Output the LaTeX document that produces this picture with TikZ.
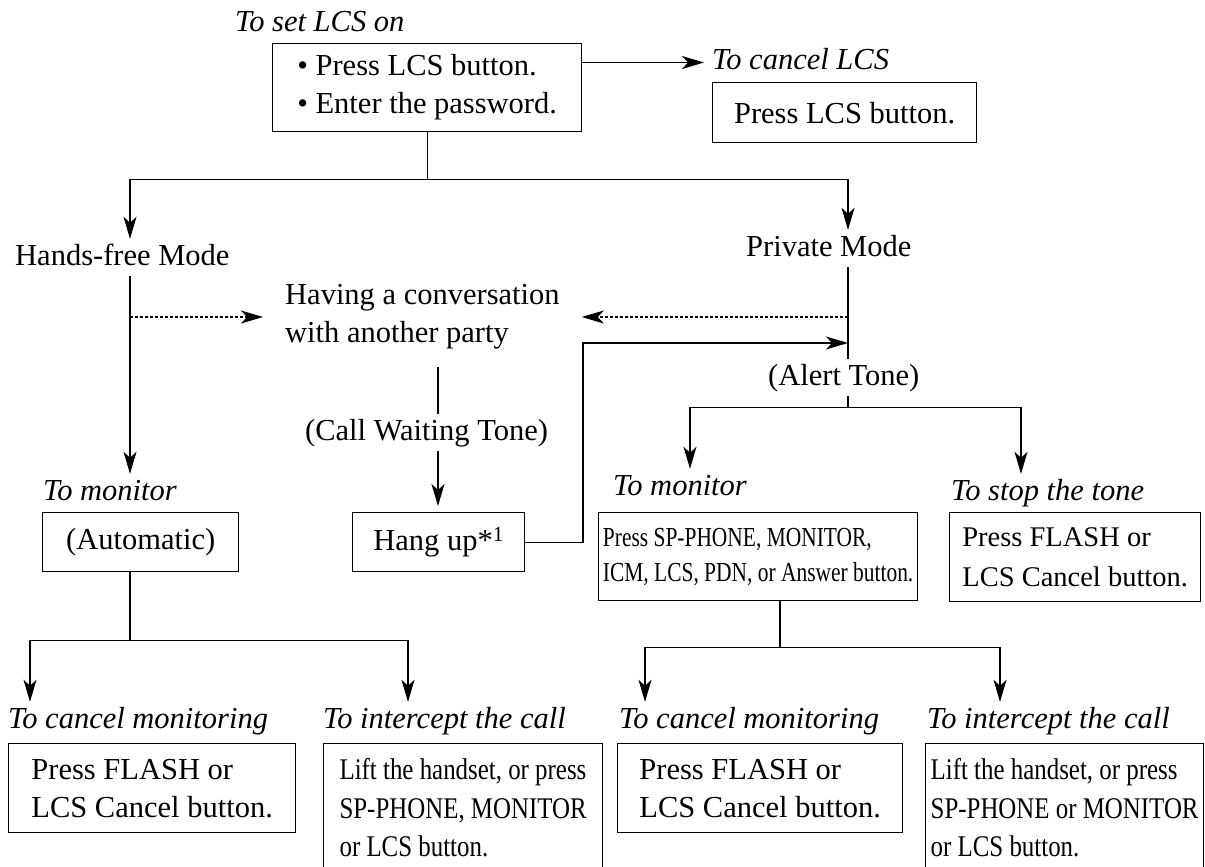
\documentclass[tikz,border=0pt]{standalone}
\usepackage{fontspec}
\setmainfont{Liberation Serif}
\newfontfamily\narrowfont{Liberation Serif}[FakeStretch=0.78]
\newfontfamily\slimfont{Liberation Serif}[FakeStretch=0.83]
\usepackage{tikz}
\usetikzlibrary{arrows.meta}
\newcommand{\bigtext}{\fontsize{30.5pt}{38pt}\selectfont}

\begin{document}
\begin{tikzpicture}[x=1pt, y=-1pt,
    txt/.style={anchor=base west, inner xsep=0pt, inner ysep=5pt, text height=21pt, text depth=6pt, font=\bigtext},
    lbl/.style={txt, font=\bigtext\itshape},
    box/.style={draw, line width=1.3pt, anchor=north west, inner sep=0pt, align=left, font=\bigtext},
    line/.style={line width=1.3pt},
    arr/.style={line, -{Stealth[length=22pt, width=13pt, inset=6pt]}},
    darr/.style={arr, line width=1.1pt, dash pattern=on 3pt off 2pt}
]
    \useasboundingbox (0,0) rectangle (1205,867);

    \coordinate (colL) at (130,0);
    \coordinate (colC) at (438,0);
    \coordinate (colR) at (848,0);
    \coordinate (colM) at (690,0);
    \coordinate (colS) at (1021,0);
    \coordinate (colLa) at (30,0);
    \coordinate (colLb) at (408,0);
    \coordinate (colMb) at (780,0);
    \coordinate (colRa) at (645,0);
    \coordinate (colRb) at (1000,0);
    \coordinate (retcol) at (583,343);
    \coordinate (ret) at (848,343);

    \node[lbl] (setlbl) at (235,32) {To set LCS on};
    \node[box, minimum width=309pt, minimum height=88pt] (setbox) at (272,43)
        {\textbullet\ Press LCS button.\\\textbullet\ Enter the password.};
    \node[lbl] (cancellbl) at (712,70) {To cancel LCS};
    \node[box, minimum width=264pt, minimum height=60pt, align=center] (cancelbox) at (712,82) {Press LCS button.};

    \node[txt] (hands) at (15,265) {Hands-free Mode};
    \node[txt] (private) at (746,256) {Private Mode};
    \node[anchor=west, inner xsep=22pt, inner ysep=5pt, align=left, font=\bigtext] (conv) at (263,317)
        {Having a conversation\\with another party};
    \node[txt] (cwt) at (305,440) {(Call Waiting Tone)};
    \node[txt] (alert) at (768,385) {(Alert Tone)};

    \node[lbl] (monlblL) at (43,500) {To monitor};
    \node[box, minimum width=196pt, minimum height=59pt, align=center] (autobox) at (42,512) {(Automatic)};
    \node[box, minimum width=172pt, minimum height=59pt, align=center] (hangbox) at (352,512) {Hang up*\textsuperscript{1}};
    \node[lbl] (monlblR) at (613,495) {To monitor};
    \node[box, minimum width=319pt, minimum height=88pt, font=\narrowfont\fontsize{27.5pt}{35pt}\selectfont] (monbox) at (598,512)
        {Press SP-PHONE, MONITOR,\\ICM, LCS, PDN, or Answer button.};
    \node[lbl] (stoplbl) at (951,500) {To stop the tone};
    \node[box, minimum width=251pt, minimum height=89pt, font=\fontsize{28.5pt}{40pt}\selectfont] (stopbox) at (949,512)
        {Press FLASH or\\LCS Cancel button.};

    \node[lbl] (cmlblL) at (8,728) {To cancel monitoring};
    \node[box, minimum width=287pt, minimum height=89pt] (cmboxL) at (8,743) {Press FLASH or\\LCS Cancel button.};
    \node[lbl] (iclblL) at (323,728) {To intercept the call};
    \node[box, minimum width=279pt, minimum height=128pt, font=\slimfont\fontsize{30pt}{38.5pt}\selectfont] (icboxL) at (323,743)
        {Lift the handset, or press\\SP-PHONE, MONITOR\\or LCS button.};
    \node[lbl] (cmlblR) at (619,728) {To cancel monitoring};
    \node[box, minimum width=285pt, minimum height=89pt] (cmboxR) at (617,743) {Press FLASH or\\LCS Cancel button.};
    \node[lbl] (iclblR) at (927,728) {To intercept the call};
    \node[box, minimum width=278pt, minimum height=128pt, font=\slimfont\fontsize{30pt}{38.5pt}\selectfont] (icboxR) at (925,743)
        {Lift the handset, or press\\SP-PHONE or MONITOR\\or LCS button.};

    \draw[arr, shorten >=8pt] (setbox.east |- cancellbl.west) -- (cancellbl.west);
    \draw[line] (setbox.south) -- ++(0,47) coordinate (jtop);
    \draw[arr] (jtop) -| (hands.north -| colL);
    \draw[arr] (jtop) -| (private.north -| colR);

    \draw[arr] (hands.south -| colL) -- (monlblL.north -| colL);
    \draw[darr] (conv.west -| colL) -- (conv.west);
    \draw[line] (private.south -| colR) -- (alert.north -| colR);
    \draw[darr] (conv.east -| colR) -- (conv.east);

    \draw[line, shorten <=12pt] (conv.south -| colC) -- (cwt.north -| colC);
    \draw[arr, shorten >=6pt] (cwt.south -| colC) -- (hangbox.north -| colC);
    \draw[arr] (hangbox.east) -| (retcol) -- (ret);

    \draw[line] (alert.south -| colR) -- ++(0,11) coordinate (jalert);
    \draw[arr] (jalert) -| (monlblR.north -| colM);
    \draw[arr] (jalert) -| (stoplbl.north -| colS);

    \draw[line] (autobox.south -| colL) -- ++(0,68) coordinate (jauto);
    \draw[arr] (jauto) -| (cmlblL.north -| colLa);
    \draw[arr] (jauto) -| (iclblL.north -| colLb);

    \draw[line] (monbox.south -| colMb) -- ++(0,46) coordinate (jmon);
    \draw[arr] (jmon) -| (cmlblR.north -| colRa);
    \draw[arr] (jmon) -| (iclblR.north -| colRb);
\end{tikzpicture}
\end{document}
